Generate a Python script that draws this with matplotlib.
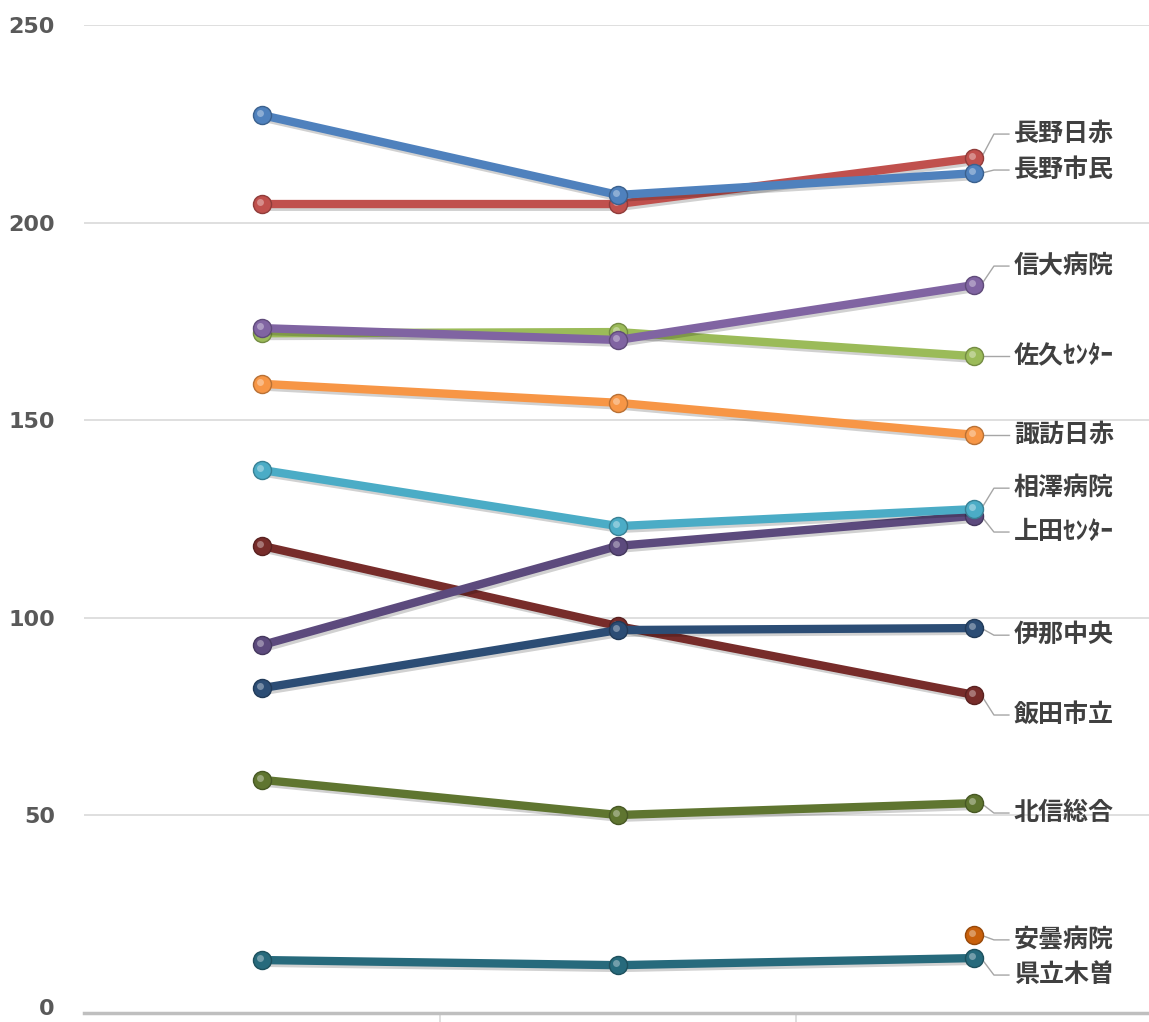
import numpy as np
import matplotlib
matplotlib.use("Agg")
import matplotlib.pyplot as plt
import matplotlib.patheffects as pe
from matplotlib.transforms import ScaledTranslation

plt.rcParams['font.family'] = ['Noto Sans CJK JP', 'DejaVu Sans']

# data (three periods, labels cut off in the original)
periods = ['', '', '']
names = ['長野市民', '長野日赤', '信大病院', '佐久ｾﾝﾀｰ', '諏訪日赤', '相澤病院',
         '上田ｾﾝﾀｰ', '伊那中央', '飯田市立', '北信総合', '安曇病院', '県立木曽']
nagano_shimin = [227.2, 207.0, 212.5]
nagano_nisseki = [204.7, 204.7, 216.3]
shindai = [173.3, 170.3, 184.2]
saku = [172.0, 172.3, 166.2]
suwa = [159.2, 154.4, 146.3]
aizawa = [137.4, 123.2, 127.5]
ueda = [93.1, 118.2, 125.8]
ina = [82.2, 96.9, 97.4]
iida = [118.2, 97.9, 80.5]
hokushin = [59.0, 50.1, 53.1]
azumi = [np.nan, np.nan, 19.7]
kiso = [13.4, 12.1, 13.9]
series = [nagano_shimin, nagano_nisseki, shindai, saku, suwa, aizawa,
          ueda, ina, iida, hokushin, azumi, kiso]

colors = ['#4F81BD', '#C0504D', '#8064A2', '#9BBB59', '#F79646', '#4BACC6',
          '#5C4A7D', '#2C4D75', '#772C2A', '#5F7530', '#C8600C', '#276A7C']
# label heights at the right side (layout only)
label_y = [213.3, 222.4, 189.0, 166.2, 146.3, 132.8,
           121.7, 95.6, 75.4, 50.6, 18.5, 9.6]

W, H = 1149, 1022
fig = plt.figure(figsize=(W / 100, H / 100), dpi=100)
ax = fig.add_axes([84 / W, 9 / H, 1068 / W, 988 / H])
ax.set_xlim(-0.5, 2.5)
ax.set_ylim(0, 250)

ax.set_yticks([0, 50, 100, 150, 200, 250])
ax.yaxis.grid(True, color='#D9D9D9', lw=1.2)
ax.set_axisbelow(True)
ax.tick_params(axis='y', length=0, pad=21, labelsize=16, labelcolor='#595959')
for t in ax.get_yticklabels():
    t.set_fontweight('bold')
    t.set_family('DejaVu Sans')
# lift the "0" a little so it stays inside the picture
zero_lbl = ax.get_yticklabels()[0]
zero_lbl.set_transform(zero_lbl.get_transform()
                       + ScaledTranslation(0, 6 / 100, fig.dpi_scale_trans))
ax.set_xticks([0, 1, 2])
ax.set_xticklabels(periods)
ax.set_xticks([0.5, 1.5], minor=True)
ax.tick_params(axis='x', which='major', length=0)
ax.tick_params(axis='x', which='minor', length=12, color='#D9D9D9', width=1.2)
for s in ['top', 'right', 'left']:
    ax.spines[s].set_visible(False)
ax.spines['bottom'].set_color('#BFBFBF')
ax.spines['bottom'].set_linewidth(2.5)

x = np.arange(3)
shadow = [pe.SimpleLineShadow(offset=(1.5, -2), alpha=0.18), pe.Normal()]
hl = ScaledTranslation(-2 / 100, 2 / 100, fig.dpi_scale_trans)

def darker(c, f=0.75):
    r, g, b = matplotlib.colors.to_rgb(c)
    return (r * f, g * f, b * f)

def lighter(c, f=0.5):
    r, g, b = matplotlib.colors.to_rgb(c)
    return (r + (1 - r) * f, g + (1 - g) * f, b + (1 - b) * f)

order = list(range(len(series)))[::-1]
for i in order:
    vals = np.array(series[i], dtype=float)
    c = colors[i]
    z = 3 + (len(series) - i) * 0.1
    ax.plot(x, vals, color=c, lw=6, solid_capstyle='round',
            path_effects=shadow, zorder=z)
    ax.plot(x, vals, 'o', ms=13, mfc=c, mec=darker(c), mew=1.0, zorder=z + 0.05)
    ax.plot(x, vals, 'o', ms=5, mfc=lighter(c), mec='none', alpha=0.7,
            transform=ax.transData + hl, zorder=z + 0.06)

    # leader line and label at the right
    ye = vals[-1]
    ly = label_y[i]
    ax.plot([2.02, 2.056, 2.098], [ye, ly, ly], color='#A6A6A6', lw=1, zorder=2)
    ax.text(2.112, ly, names[i], ha='left', va='center', fontsize=18,
            fontweight='bold', color='#404040')

fig.savefig('out.png', dpi=100)
